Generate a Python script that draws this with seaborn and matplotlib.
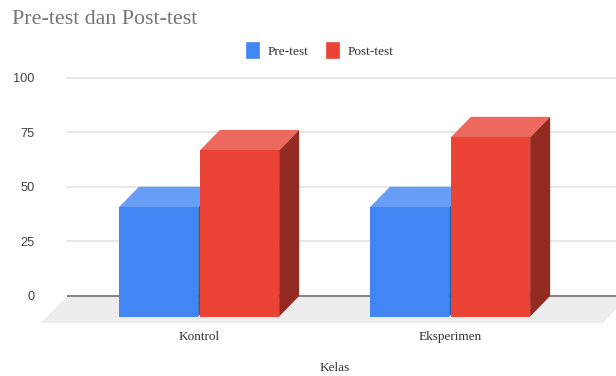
import matplotlib
matplotlib.use("Agg")
import matplotlib.pyplot as plt
import pandas as pd
import seaborn as sns
from matplotlib.patches import Polygon, Patch

# Chart values
kelas = ["Kontrol", "Eksperimen"]
pre_test = [50, 50]
post_test = [76, 82]
y_ticks = [0, 25, 50, 75, 100]

# Colours: front, top and side faces of each series
BLUE = ("#4285F4", "#689DF6", "#2B5CA6")
RED = ("#EA4335", "#EE695D", "#932B22")
FLOOR = "#EDEDED"
GRID = "#E3E3E3"

W, H = 616, 376
sns.set_theme(style="white")
plt.rcParams["font.family"] = ["Liberation Serif", "DejaVu Serif"]

df = pd.DataFrame({
    "Kelas": kelas * 2,
    "Nilai": pre_test + post_test,
    "Tes": ["Pre-test"] * 2 + ["Post-test"] * 2,
})

fig = plt.figure(figsize=(W / 100, H / 100), dpi=100)
ax = fig.add_axes([67 / W, 1 - 323 / H, 549 / W, (323 - 77.5) / H])

# Extrusion of the bars, in data units
depth_x = 20 / 251
depth_y = 9.4

sns.barplot(
    data=df, x="Kelas", y="Nilai", hue="Tes", order=kelas,
    hue_order=["Pre-test", "Post-test"],
    palette=[BLUE[0], RED[0]], width=0.645, gap=0.02, dodge=True,
    bottom=-depth_y, linewidth=0, saturation=1, ax=ax, legend=False, zorder=5,
)

ax.set_xlim(-132 / 251, 417 / 251)
ax.set_ylim(-12.36, 100)

# Top and side faces of each bar
for bar, (_, top, side) in zip(ax.patches, [BLUE, BLUE, RED, RED]):
    x0, x1 = bar.get_x(), bar.get_x() + bar.get_width()
    y0, y1 = bar.get_y(), bar.get_y() + bar.get_height()
    z = bar.get_zorder() + (0 if top == BLUE[1] else 2)
    bar.set_zorder(z + 1)
    ax.add_patch(Polygon(
        [(x0, y1), (x1, y1), (x1 + depth_x, y1 + depth_y), (x0 + depth_x, y1 + depth_y)],
        facecolor=top, edgecolor="none", zorder=z, clip_on=False))
    ax.add_patch(Polygon(
        [(x1, y0), (x1 + depth_x, y0 + depth_y), (x1 + depth_x, y1 + depth_y), (x1, y1)],
        facecolor=side, edgecolor="none", zorder=z, clip_on=False))

# Floor of the 3D plot, slanting towards the viewer
x_left, x_right = ax.get_xlim()
ax.add_patch(Polygon(
    [(x_left, 0), (x_right + 13 / 251, 0), (x_right - 13 / 251, -12.36), (x_left - 26 / 251, -12.36)],
    facecolor=FLOOR, edgecolor="none", zorder=1, clip_on=False))

# Gridlines and baseline on the back wall
for v in y_ticks[1:]:
    ax.axhline(v, color=GRID, linewidth=1.2, zorder=0.5, clip_on=False)
ax.axhline(0, color="#7A7A7A", linewidth=1.3, zorder=2)

for s in ax.spines.values():
    s.set_visible(False)

ax.set_yticks(y_ticks)
ax.set_yticklabels([str(v) for v in y_ticks], family="Liberation Sans", fontsize=9.2, color="#444444")
ax.tick_params(axis="y", length=0, pad=23.5)
ax.tick_params(axis="x", length=0, pad=5.5, labelsize=9.5, labelcolor="#333333")
ax.set_ylabel("")

ax.set_xlabel("Kelas", fontsize=9.5, color="#333333")
ax.xaxis.set_label_coords((335 - 67) / 549, -(368 - 323) / (323 - 77.5), transform=ax.transAxes)
ax.xaxis.label.set_verticalalignment("center")

fig.text(12 / W, 1 - 20 / H, "Pre-test dan Post-test", fontsize=15.8, color="#757575", va="center", ha="left")

handles = [
    Patch(facecolor=BLUE[0], edgecolor=BLUE[0], linewidth=1.2, joinstyle="round", label="Pre-test"),
    Patch(facecolor=RED[0], edgecolor=RED[0], linewidth=1.2, joinstyle="round", label="Post-test"),
]
fig.legend(
    handles=handles, loc="center", bbox_to_anchor=(320.5 / W, 1 - 50.5 / H), ncol=2, frameon=False,
    fontsize=9.6, labelcolor="#333333", handlelength=0.9, handleheight=1.35,
    handletextpad=0.66, columnspacing=1.35,
)

fig.savefig("out.png", dpi=100)
